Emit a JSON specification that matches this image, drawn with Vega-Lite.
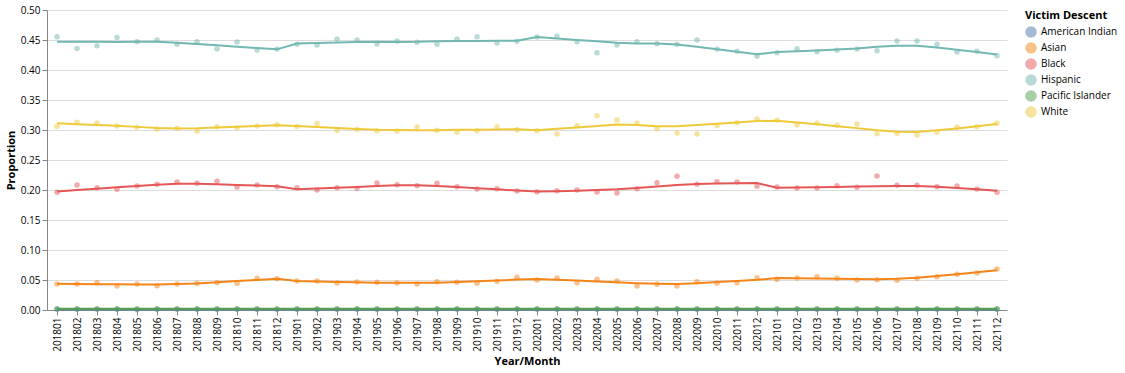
{
  "$schema": "https://vega.github.io/schema/vega-lite/v6.json",
  "width": 960,
  "height": 300,
  "config": {
    "font": "Open Sans",
    "view": {"stroke": null},
    "axis": {"labelFontSize": 10, "titleFontSize": 11},
    "legend": {"labelFontSize": 10, "titleFontSize": 11, "rowPadding": 0, "symbolSize": 100}
  },
  "datasets": {
    "rows": [
      {"month":201801,"descent":"Hispanic","proportion":0.4556},{"month":201802,"descent":"Hispanic","proportion":0.436},{"month":201803,"descent":"Hispanic","proportion":0.4406},{"month":201804,"descent":"Hispanic","proportion":0.454},{"month":201805,"descent":"Hispanic","proportion":0.447},{"month":201806,"descent":"Hispanic","proportion":0.45},{"month":201807,"descent":"Hispanic","proportion":0.443},{"month":201808,"descent":"Hispanic","proportion":0.447},{"month":201809,"descent":"Hispanic","proportion":0.435},{"month":201810,"descent":"Hispanic","proportion":0.4467},{"month":201811,"descent":"Hispanic","proportion":0.4333},{"month":201812,"descent":"Hispanic","proportion":0.435},
      {"month":201901,"descent":"Hispanic","proportion":0.4428},{"month":201902,"descent":"Hispanic","proportion":0.4417},{"month":201903,"descent":"Hispanic","proportion":0.4517},{"month":201904,"descent":"Hispanic","proportion":0.45},{"month":201905,"descent":"Hispanic","proportion":0.4433},{"month":201906,"descent":"Hispanic","proportion":0.4483},{"month":201907,"descent":"Hispanic","proportion":0.4461},{"month":201908,"descent":"Hispanic","proportion":0.4428},{"month":201909,"descent":"Hispanic","proportion":0.4517},{"month":201910,"descent":"Hispanic","proportion":0.4556},{"month":201911,"descent":"Hispanic","proportion":0.445},{"month":201912,"descent":"Hispanic","proportion":0.4478},
      {"month":202001,"descent":"Hispanic","proportion":0.455},{"month":202002,"descent":"Hispanic","proportion":0.4561},{"month":202003,"descent":"Hispanic","proportion":0.4472},{"month":202004,"descent":"Hispanic","proportion":0.4289},{"month":202005,"descent":"Hispanic","proportion":0.4417},{"month":202006,"descent":"Hispanic","proportion":0.4472},{"month":202007,"descent":"Hispanic","proportion":0.4439},{"month":202008,"descent":"Hispanic","proportion":0.4428},{"month":202009,"descent":"Hispanic","proportion":0.45},{"month":202010,"descent":"Hispanic","proportion":0.435},{"month":202011,"descent":"Hispanic","proportion":0.4311},{"month":202012,"descent":"Hispanic","proportion":0.4228},
      {"month":202101,"descent":"Hispanic","proportion":0.4289},{"month":202102,"descent":"Hispanic","proportion":0.4356},{"month":202103,"descent":"Hispanic","proportion":0.4306},{"month":202104,"descent":"Hispanic","proportion":0.4328},{"month":202105,"descent":"Hispanic","proportion":0.435},{"month":202106,"descent":"Hispanic","proportion":0.4322},{"month":202107,"descent":"Hispanic","proportion":0.4483},{"month":202108,"descent":"Hispanic","proportion":0.4483},{"month":202109,"descent":"Hispanic","proportion":0.4428},{"month":202110,"descent":"Hispanic","proportion":0.43},{"month":202111,"descent":"Hispanic","proportion":0.4311},{"month":202112,"descent":"Hispanic","proportion":0.4239},

      {"month":201801,"descent":"White","proportion":0.306},{"month":201802,"descent":"White","proportion":0.3128},{"month":201803,"descent":"White","proportion":0.3117},{"month":201804,"descent":"White","proportion":0.3067},{"month":201805,"descent":"White","proportion":0.3044},{"month":201806,"descent":"White","proportion":0.3017},{"month":201807,"descent":"White","proportion":0.3028},{"month":201808,"descent":"White","proportion":0.2983},{"month":201809,"descent":"White","proportion":0.3056},{"month":201810,"descent":"White","proportion":0.3039},{"month":201811,"descent":"White","proportion":0.3067},{"month":201812,"descent":"White","proportion":0.3089},
      {"month":201901,"descent":"White","proportion":0.306},{"month":201902,"descent":"White","proportion":0.3106},{"month":201903,"descent":"White","proportion":0.2994},{"month":201904,"descent":"White","proportion":0.3011},{"month":201905,"descent":"White","proportion":0.2989},{"month":201906,"descent":"White","proportion":0.2983},{"month":201907,"descent":"White","proportion":0.305},{"month":201908,"descent":"White","proportion":0.2994},{"month":201909,"descent":"White","proportion":0.2961},{"month":201910,"descent":"White","proportion":0.2989},{"month":201911,"descent":"White","proportion":0.3056},{"month":201912,"descent":"White","proportion":0.3006},
      {"month":202001,"descent":"White","proportion":0.2989},{"month":202002,"descent":"White","proportion":0.2933},{"month":202003,"descent":"White","proportion":0.3072},{"month":202004,"descent":"White","proportion":0.3239},{"month":202005,"descent":"White","proportion":0.3167},{"month":202006,"descent":"White","proportion":0.3117},{"month":202007,"descent":"White","proportion":0.3022},{"month":202008,"descent":"White","proportion":0.295},{"month":202009,"descent":"White","proportion":0.2933},{"month":202010,"descent":"White","proportion":0.3072},{"month":202011,"descent":"White","proportion":0.3122},{"month":202012,"descent":"White","proportion":0.3183},
      {"month":202101,"descent":"White","proportion":0.3161},{"month":202102,"descent":"White","proportion":0.3083},{"month":202103,"descent":"White","proportion":0.3117},{"month":202104,"descent":"White","proportion":0.3078},{"month":202105,"descent":"White","proportion":0.31},{"month":202106,"descent":"White","proportion":0.2939},{"month":202107,"descent":"White","proportion":0.2944},{"month":202108,"descent":"White","proportion":0.2917},{"month":202109,"descent":"White","proportion":0.2961},{"month":202110,"descent":"White","proportion":0.3044},{"month":202111,"descent":"White","proportion":0.3056},{"month":202112,"descent":"White","proportion":0.3111},

      {"month":201801,"descent":"Black","proportion":0.1961},{"month":201802,"descent":"Black","proportion":0.2083},{"month":201803,"descent":"Black","proportion":0.2039},{"month":201804,"descent":"Black","proportion":0.2011},{"month":201805,"descent":"Black","proportion":0.2067},{"month":201806,"descent":"Black","proportion":0.2094},{"month":201807,"descent":"Black","proportion":0.2133},{"month":201808,"descent":"Black","proportion":0.2111},{"month":201809,"descent":"Black","proportion":0.2144},{"month":201810,"descent":"Black","proportion":0.205},{"month":201811,"descent":"Black","proportion":0.2083},{"month":201812,"descent":"Black","proportion":0.2056},
      {"month":201901,"descent":"Black","proportion":0.2039},{"month":201902,"descent":"Black","proportion":0.2},{"month":201903,"descent":"Black","proportion":0.2039},{"month":201904,"descent":"Black","proportion":0.2028},{"month":201905,"descent":"Black","proportion":0.2117},{"month":201906,"descent":"Black","proportion":0.2089},{"month":201907,"descent":"Black","proportion":0.2072},{"month":201908,"descent":"Black","proportion":0.2111},{"month":201909,"descent":"Black","proportion":0.2056},{"month":201910,"descent":"Black","proportion":0.2017},{"month":201911,"descent":"Black","proportion":0.2022},{"month":201912,"descent":"Black","proportion":0.1983},
      {"month":202001,"descent":"Black","proportion":0.1972},{"month":202002,"descent":"Black","proportion":0.1989},{"month":202003,"descent":"Black","proportion":0.2},{"month":202004,"descent":"Black","proportion":0.1967},{"month":202005,"descent":"Black","proportion":0.195},{"month":202006,"descent":"Black","proportion":0.2022},{"month":202007,"descent":"Black","proportion":0.2122},{"month":202008,"descent":"Black","proportion":0.2228},{"month":202009,"descent":"Black","proportion":0.2094},{"month":202010,"descent":"Black","proportion":0.2139},{"month":202011,"descent":"Black","proportion":0.2133},{"month":202012,"descent":"Black","proportion":0.2061},
      {"month":202101,"descent":"Black","proportion":0.205},{"month":202102,"descent":"Black","proportion":0.2033},{"month":202103,"descent":"Black","proportion":0.2033},{"month":202104,"descent":"Black","proportion":0.2072},{"month":202105,"descent":"Black","proportion":0.2044},{"month":202106,"descent":"Black","proportion":0.2233},{"month":202107,"descent":"Black","proportion":0.2078},{"month":202108,"descent":"Black","proportion":0.2078},{"month":202109,"descent":"Black","proportion":0.2056},{"month":202110,"descent":"Black","proportion":0.2067},{"month":202111,"descent":"Black","proportion":0.2017},{"month":202112,"descent":"Black","proportion":0.1961},

      {"month":201801,"descent":"Asian","proportion":0.0433},{"month":201802,"descent":"Asian","proportion":0.0433},{"month":201803,"descent":"Asian","proportion":0.0456},{"month":201804,"descent":"Asian","proportion":0.04},{"month":201805,"descent":"Asian","proportion":0.0433},{"month":201806,"descent":"Asian","proportion":0.0406},{"month":201807,"descent":"Asian","proportion":0.0433},{"month":201808,"descent":"Asian","proportion":0.0444},{"month":201809,"descent":"Asian","proportion":0.0456},{"month":201810,"descent":"Asian","proportion":0.0444},{"month":201811,"descent":"Asian","proportion":0.0528},{"month":201812,"descent":"Asian","proportion":0.0522},
      {"month":201901,"descent":"Asian","proportion":0.0483},{"month":201902,"descent":"Asian","proportion":0.0483},{"month":201903,"descent":"Asian","proportion":0.045},{"month":201904,"descent":"Asian","proportion":0.0467},{"month":201905,"descent":"Asian","proportion":0.0461},{"month":201906,"descent":"Asian","proportion":0.045},{"month":201907,"descent":"Asian","proportion":0.0433},{"month":201908,"descent":"Asian","proportion":0.0472},{"month":201909,"descent":"Asian","proportion":0.0461},{"month":201910,"descent":"Asian","proportion":0.0444},{"month":201911,"descent":"Asian","proportion":0.0478},{"month":201912,"descent":"Asian","proportion":0.0544},
      {"month":202001,"descent":"Asian","proportion":0.05},{"month":202002,"descent":"Asian","proportion":0.0533},{"month":202003,"descent":"Asian","proportion":0.0456},{"month":202004,"descent":"Asian","proportion":0.0511},{"month":202005,"descent":"Asian","proportion":0.0483},{"month":202006,"descent":"Asian","proportion":0.04},{"month":202007,"descent":"Asian","proportion":0.0428},{"month":202008,"descent":"Asian","proportion":0.04},{"month":202009,"descent":"Asian","proportion":0.0472},{"month":202010,"descent":"Asian","proportion":0.0444},{"month":202011,"descent":"Asian","proportion":0.0456},{"month":202012,"descent":"Asian","proportion":0.0539},
      {"month":202101,"descent":"Asian","proportion":0.0511},{"month":202102,"descent":"Asian","proportion":0.0533},{"month":202103,"descent":"Asian","proportion":0.0556},{"month":202104,"descent":"Asian","proportion":0.0528},{"month":202105,"descent":"Asian","proportion":0.05},{"month":202106,"descent":"Asian","proportion":0.0506},{"month":202107,"descent":"Asian","proportion":0.0494},{"month":202108,"descent":"Asian","proportion":0.0528},{"month":202109,"descent":"Asian","proportion":0.0556},{"month":202110,"descent":"Asian","proportion":0.0594},{"month":202111,"descent":"Asian","proportion":0.0617},{"month":202112,"descent":"Asian","proportion":0.0683},

      {"month":201801,"descent":"American Indian","proportion":0.0012},{"month":201802,"descent":"American Indian","proportion":0.0011},{"month":201803,"descent":"American Indian","proportion":0.0013},{"month":201804,"descent":"American Indian","proportion":0.0012},{"month":201805,"descent":"American Indian","proportion":0.001},{"month":201806,"descent":"American Indian","proportion":0.0012},{"month":201807,"descent":"American Indian","proportion":0.0011},{"month":201808,"descent":"American Indian","proportion":0.0012},{"month":201809,"descent":"American Indian","proportion":0.0013},{"month":201810,"descent":"American Indian","proportion":0.0011},{"month":201811,"descent":"American Indian","proportion":0.0012},{"month":201812,"descent":"American Indian","proportion":0.001},
      {"month":201901,"descent":"American Indian","proportion":0.0012},{"month":201902,"descent":"American Indian","proportion":0.0008},{"month":201903,"descent":"American Indian","proportion":0.0012},{"month":201904,"descent":"American Indian","proportion":0.0011},{"month":201905,"descent":"American Indian","proportion":0.0012},{"month":201906,"descent":"American Indian","proportion":0.0008},{"month":201907,"descent":"American Indian","proportion":0.0012},{"month":201908,"descent":"American Indian","proportion":0.0013},{"month":201909,"descent":"American Indian","proportion":0.0011},{"month":201910,"descent":"American Indian","proportion":0.0012},{"month":201911,"descent":"American Indian","proportion":0.0011},{"month":201912,"descent":"American Indian","proportion":0.0012},
      {"month":202001,"descent":"American Indian","proportion":0.0011},{"month":202002,"descent":"American Indian","proportion":0.0012},{"month":202003,"descent":"American Indian","proportion":0.0013},{"month":202004,"descent":"American Indian","proportion":0.0012},{"month":202005,"descent":"American Indian","proportion":0.0011},{"month":202006,"descent":"American Indian","proportion":0.0012},{"month":202007,"descent":"American Indian","proportion":0.0012},{"month":202008,"descent":"American Indian","proportion":0.0011},{"month":202009,"descent":"American Indian","proportion":0.0012},{"month":202010,"descent":"American Indian","proportion":0.0013},{"month":202011,"descent":"American Indian","proportion":0.0012},{"month":202012,"descent":"American Indian","proportion":0.0011},
      {"month":202101,"descent":"American Indian","proportion":0.0012},{"month":202102,"descent":"American Indian","proportion":0.0011},{"month":202103,"descent":"American Indian","proportion":0.0012},{"month":202104,"descent":"American Indian","proportion":0.0012},{"month":202105,"descent":"American Indian","proportion":0.0013},{"month":202106,"descent":"American Indian","proportion":0.0011},{"month":202107,"descent":"American Indian","proportion":0.0012},{"month":202108,"descent":"American Indian","proportion":0.0012},{"month":202109,"descent":"American Indian","proportion":0.0011},{"month":202110,"descent":"American Indian","proportion":0.0012},{"month":202111,"descent":"American Indian","proportion":0.0013},{"month":202112,"descent":"American Indian","proportion":0.0012},

      {"month":201801,"descent":"Pacific Islander","proportion":0.0022},{"month":201802,"descent":"Pacific Islander","proportion":0.0021},{"month":201803,"descent":"Pacific Islander","proportion":0.0023},{"month":201804,"descent":"Pacific Islander","proportion":0.0022},{"month":201805,"descent":"Pacific Islander","proportion":0.0021},{"month":201806,"descent":"Pacific Islander","proportion":0.0022},{"month":201807,"descent":"Pacific Islander","proportion":0.0023},{"month":201808,"descent":"Pacific Islander","proportion":0.0022},{"month":201809,"descent":"Pacific Islander","proportion":0.0021},{"month":201810,"descent":"Pacific Islander","proportion":0.0022},{"month":201811,"descent":"Pacific Islander","proportion":0.0022},{"month":201812,"descent":"Pacific Islander","proportion":0.0023},
      {"month":201901,"descent":"Pacific Islander","proportion":0.0022},{"month":201902,"descent":"Pacific Islander","proportion":0.0021},{"month":201903,"descent":"Pacific Islander","proportion":0.0022},{"month":201904,"descent":"Pacific Islander","proportion":0.0023},{"month":201905,"descent":"Pacific Islander","proportion":0.0022},{"month":201906,"descent":"Pacific Islander","proportion":0.0021},{"month":201907,"descent":"Pacific Islander","proportion":0.0022},{"month":201908,"descent":"Pacific Islander","proportion":0.0022},{"month":201909,"descent":"Pacific Islander","proportion":0.0023},{"month":201910,"descent":"Pacific Islander","proportion":0.0022},{"month":201911,"descent":"Pacific Islander","proportion":0.0021},{"month":201912,"descent":"Pacific Islander","proportion":0.0022},
      {"month":202001,"descent":"Pacific Islander","proportion":0.0023},{"month":202002,"descent":"Pacific Islander","proportion":0.0022},{"month":202003,"descent":"Pacific Islander","proportion":0.0021},{"month":202004,"descent":"Pacific Islander","proportion":0.0022},{"month":202005,"descent":"Pacific Islander","proportion":0.0022},{"month":202006,"descent":"Pacific Islander","proportion":0.0023},{"month":202007,"descent":"Pacific Islander","proportion":0.0022},{"month":202008,"descent":"Pacific Islander","proportion":0.0021},{"month":202009,"descent":"Pacific Islander","proportion":0.0022},{"month":202010,"descent":"Pacific Islander","proportion":0.0022},{"month":202011,"descent":"Pacific Islander","proportion":0.0023},{"month":202012,"descent":"Pacific Islander","proportion":0.0022},
      {"month":202101,"descent":"Pacific Islander","proportion":0.0021},{"month":202102,"descent":"Pacific Islander","proportion":0.0022},{"month":202103,"descent":"Pacific Islander","proportion":0.0022},{"month":202104,"descent":"Pacific Islander","proportion":0.0023},{"month":202105,"descent":"Pacific Islander","proportion":0.0022},{"month":202106,"descent":"Pacific Islander","proportion":0.0021},{"month":202107,"descent":"Pacific Islander","proportion":0.0022},{"month":202108,"descent":"Pacific Islander","proportion":0.0022},{"month":202109,"descent":"Pacific Islander","proportion":0.0023},{"month":202110,"descent":"Pacific Islander","proportion":0.0022},{"month":202111,"descent":"Pacific Islander","proportion":0.0021},{"month":202112,"descent":"Pacific Islander","proportion":0.0022}
    ]
  },
  "data": {"name": "rows"},
  "encoding": {
    "x": {"field": "month", "type": "ordinal", "title": "Year/Month"},
    "y": {"field": "proportion", "type": "quantitative", "title": "Proportion", "scale": {"domain": [0, 0.5]}, "axis": {"format": ".2f", "tickCount": 10}},
    "color": {"field": "descent", "type": "nominal", "title": "Victim Descent"}
  },
  "layer": [
    {"mark": {"type": "circle", "opacity": 0.5, "size": 30}},
    {
      "transform": [{"loess": "proportion", "on": "month", "groupby": ["descent"], "bandwidth": 0.2}],
      "mark": {"type": "line", "strokeWidth": 2}
    }
  ]
}
